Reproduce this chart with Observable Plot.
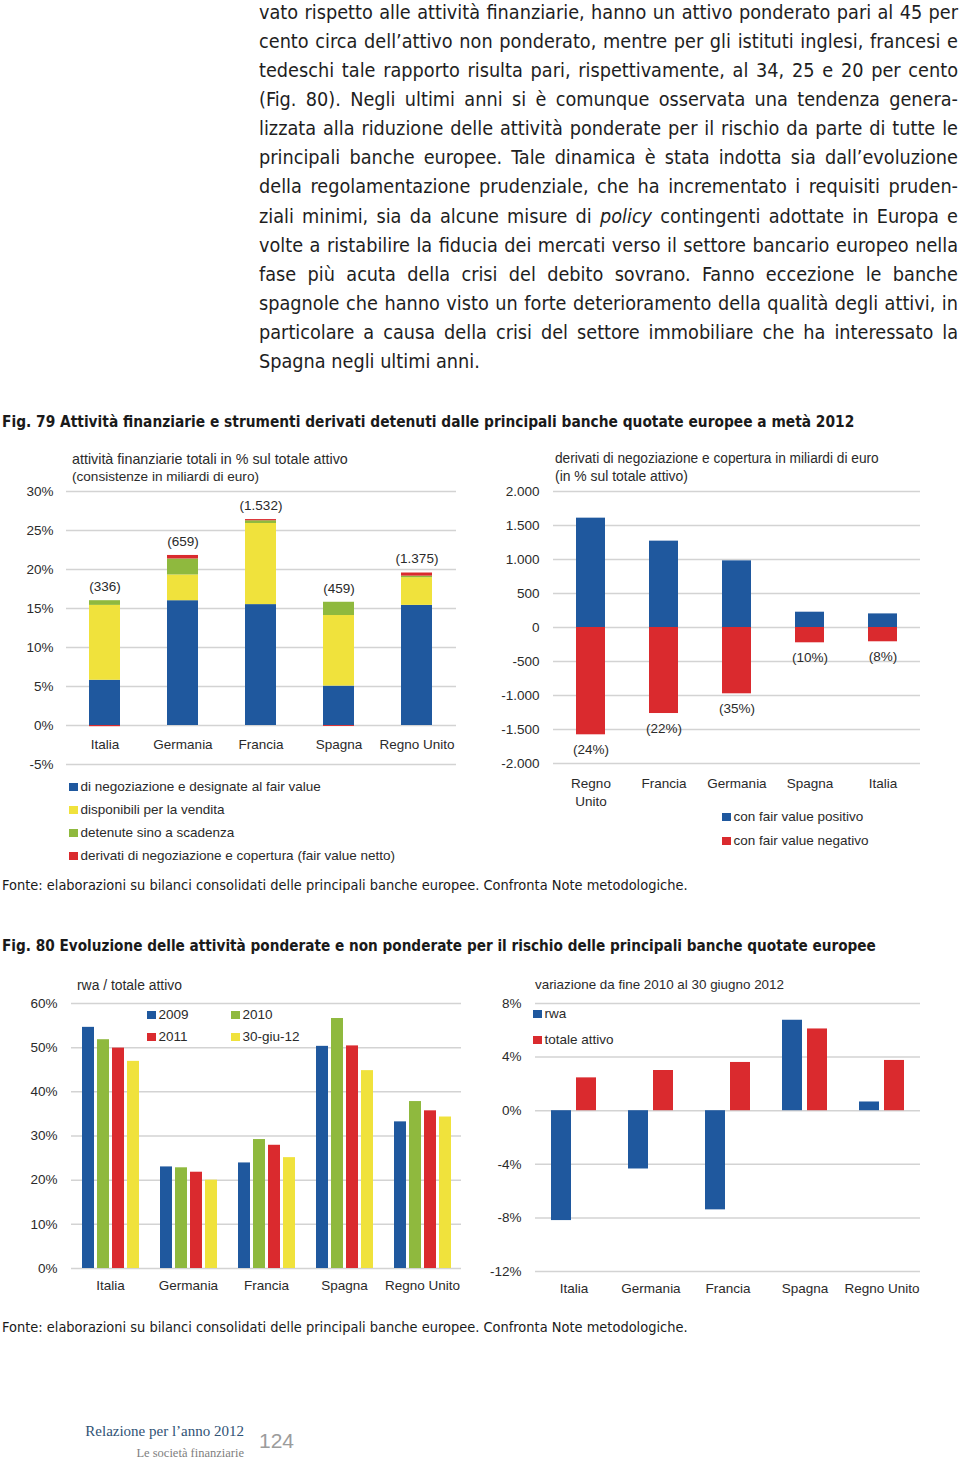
<!DOCTYPE html>
<html lang="it">
<head>
<meta charset="utf-8">
<script src="https://cdn.jsdelivr.net/npm/d3@7"></script>
<script src="https://cdn.jsdelivr.net/npm/@observablehq/plot@0.6"></script>
<style>
html,body{margin:0;padding:0;background:#fff;}
body{position:relative;width:960px;height:1460px;overflow:hidden;font-family:"Liberation Sans",Arial,sans-serif;color:#2a2a2a;}
.abs{position:absolute;white-space:nowrap;}
#para{position:absolute;left:259px;top:-2.5px;width:699px;font-family:"Liberation Sans Narrow","DejaVu Sans Condensed",sans-serif;font-size:20px;color:#1e1e1e;}
#para .ln{height:29.17px;line-height:29.17px;text-align:justify;text-align-last:justify;overflow:visible;}
#para .ln.last{text-align:left;text-align-last:left;}
.figtitle{font-family:"Liberation Sans Narrow","DejaVu Sans Condensed",sans-serif;font-weight:bold;font-size:18px;line-height:22px;color:#1a1a1a;}
.source{font-family:"Liberation Sans Narrow","DejaVu Sans Condensed",sans-serif;font-size:16px;line-height:20px;color:#1a1a1a;}
.sub{font-size:13.5px;line-height:18px;color:#2a2a2a;}
.leg{font-size:13.5px;line-height:18px;color:#2a2a2a;}
.leg i{display:inline-block;width:8.5px;height:8.5px;margin-right:3px;vertical-align:0px;}
.chart{position:absolute;}
.chart svg{overflow:visible;}
</style>
</head>
<body>
<div id="para">
<div class="ln">vato rispetto alle attività finanziarie, hanno un attivo ponderato pari al 45 per</div>
<div class="ln">cento circa dell’attivo non ponderato, mentre per gli istituti inglesi, francesi e</div>
<div class="ln">tedeschi tale rapporto risulta pari, rispettivamente, al 34, 25 e 20 per cento</div>
<div class="ln">(Fig. 80). Negli ultimi anni si è comunque osservata una tendenza genera-</div>
<div class="ln">lizzata alla riduzione delle attività ponderate per il rischio da parte di tutte le</div>
<div class="ln">principali banche europee. Tale dinamica è stata indotta sia dall’evoluzione</div>
<div class="ln">della regolamentazione prudenziale, che ha incrementato i requisiti pruden-</div>
<div class="ln">ziali minimi, sia da alcune misure di <i>policy</i> contingenti adottate in Europa e</div>
<div class="ln">volte a ristabilire la fiducia dei mercati verso il settore bancario europeo nella</div>
<div class="ln">fase più acuta della crisi del debito sovrano. Fanno eccezione le banche</div>
<div class="ln">spagnole che hanno visto un forte deterioramento della qualità degli attivi, in</div>
<div class="ln">particolare a causa della crisi del settore immobiliare che ha interessato la</div>
<div class="ln last">Spagna negli ultimi anni.</div>
</div>

<div class="abs figtitle" style="left:2px;top:411px" data-w="853">Fig. 79 Attività finanziarie e strumenti derivati detenuti dalle principali banche quotate europee a metà 2012</div>

<div class="abs sub" style="left:72px;top:450px" data-w="276">attività finanziarie totali in % sul totale attivo</div>
<div class="abs sub" style="left:72px;top:468px" data-w="187">(consistenze in miliardi di euro)</div>
<div class="chart" id="c1" style="left:0;top:481px"></div>
<div id="leg1"></div>

<div class="abs sub" style="left:555px;top:450px" data-w="324">derivati di negoziazione e copertura in miliardi di euro</div>
<div class="abs sub" style="left:555px;top:467px" data-w="133">(in % sul totale attivo)</div>
<div class="chart" id="c2" style="left:480px;top:481px"></div>
<div id="leg2"></div>

<div class="abs source" style="left:2px;top:875px" data-w="686">Fonte: elaborazioni su bilanci consolidati delle principali banche europee. Confronta Note metodologiche.</div>

<div class="abs figtitle" style="left:2px;top:935px" data-w="874">Fig. 80 Evoluzione delle attività ponderate e non ponderate per il rischio delle principali banche quotate europee</div>

<div class="abs sub" style="left:77px;top:976px" data-w="105">rwa / totale attivo</div>
<div class="chart" id="c3" style="left:0;top:995px"></div>
<div id="leg3"></div>

<div class="abs sub" style="left:535px;top:976px" data-w="249">variazione da fine 2010 al 30 giugno 2012</div>
<div class="chart" id="c4" style="left:480px;top:995px"></div>
<div id="leg4"></div>

<div class="abs source" style="left:2px;top:1317px" data-w="686">Fonte: elaborazioni su bilanci consolidati delle principali banche europee. Confronta Note metodologiche.</div>

<div class="abs" style="right:716px;top:1422px;font-family:'Liberation Serif',serif;font-size:15px;line-height:18px;color:#2f5275">Relazione per l’anno 2012</div>
<div class="abs" style="right:716px;top:1445px;font-family:'Liberation Serif',serif;font-size:12.5px;line-height:16px;color:#808080">Le società finanziarie</div>
<div class="abs" style="left:259px;top:1428px;font-family:'Liberation Sans',sans-serif;font-size:21px;line-height:26px;color:#9c9c9c">124</div>

<script>
// ---------- colours ----------
const BLU = "#1f589e", GIALLO = "#f0e23c", VERDE = "#8fb93e", ROSSO = "#da2a2e";
const GRID = "#d3d3d3";

// ---------- Fig. 79 left: attività finanziarie ----------
const paesi1 = ["Italia", "Germania", "Francia", "Spagna", "Regno Unito"];
const serie1 = [
  "di negoziazione e designate al fair value",
  "disponibili per la vendita",
  "detenute sino a scadenza",
  "derivati di negoziazione e copertura (fair value netto)"
];
const negoziazioneFV = [5.8, 16.0, 15.5, 5.05, 15.4];
const disponibili    = [9.6, 3.3, 10.4, 9.05, 3.55];
const detenute       = [0.6, 2.05, 0.35, 1.7, 0.2];
const derivatiNetti  = [-0.15, 0.45, 0.15, -0.12, 0.4];
const consistenze    = ["(336)", "(659)", "(1.532)", "(459)", "(1.375)"];
const ticks1 = [-5, 0, 5, 10, 15, 20, 25, 30];

// ---------- Fig. 79 right: derivati ----------
const paesi2 = ["Regno Unito", "Francia", "Germania", "Spagna", "Italia"];
const serie2 = ["con fair value positivo", "con fair value negativo"];
const fvPositivo = [1608, 1270, 980, 225, 200];
const fvNegativo = [-1578, -1265, -975, -225, -210];
const quotaAttivo = ["(24%)", "(22%)", "(35%)", "(10%)", "(8%)"];
const ticks2 = [-2000, -1500, -1000, -500, 0, 500, 1000, 1500, 2000];

// ---------- Fig. 80 left: rwa / totale attivo ----------
const paesi3 = ["Italia", "Germania", "Francia", "Spagna", "Regno Unito"];
const periodi = ["2009", "2010", "2011", "30-giu-12"];
const rwa2009 = [54.6, 23.0, 23.9, 50.3, 33.2];
const rwa2010 = [51.8, 22.8, 29.2, 56.6, 37.8];
const rwa2011 = [49.9, 21.8, 27.9, 50.4, 35.7];
const rwaGiu12 = [46.9, 20.0, 25.1, 44.8, 34.3];
const ticks3 = [0, 10, 20, 30, 40, 50, 60];

// ---------- Fig. 80 right: variazione ----------
const paesi4 = ["Italia", "Germania", "Francia", "Spagna", "Regno Unito"];
const serie4 = ["rwa", "totale attivo"];
const varRwa = [-8.2, -4.35, -7.4, 6.75, 0.65];
const varAttivo = [2.45, 3.0, 3.6, 6.1, 3.75];
const ticks4 = [-12, -8, -4, 0, 4, 8];

// ---------- helpers ----------
const pct = d => `${d}%`;
const it = d3.formatLocale({decimal: ",", thousands: ".", grouping: [3], currency: ["€", ""], minus: "-"});
const itNum = it.format(",");
const style = {fontFamily: "Liberation Sans, Arial, sans-serif", fontSize: "13.5px", color: "#2a2a2a", background: "transparent", overflow: "visible"};

function legend(containerId, left, tops, items, colors, lefts) {
  const c = document.getElementById(containerId);
  items.forEach((t, i) => {
    const d = document.createElement("div");
    d.className = "abs leg";
    d.style.left = (lefts ? lefts[i] : left) + "px";
    d.style.top = (tops[i] - 9) + "px";
    d.innerHTML = `<i style="background:${colors[i]}"></i>${t}`;
    c.appendChild(d);
  });
}

// ---------- chart 1 ----------
const arr1 = [negoziazioneFV, disponibili, detenute, derivatiNetti];
const rows1 = paesi1.flatMap((p, i) => serie1.map((s, j) => ({paese: p, serie: s, valore: arr1[j][i]})));
const totali1 = paesi1.map((p, i) => arr1.reduce((s, a) => s + Math.max(0, a[i]), 0));
const col1 = [BLU, GIALLO, VERDE, ROSSO];

document.getElementById("c1").append(Plot.plot({
  width: 470, height: 290, marginTop: 10, marginBottom: 7, marginLeft: 66, marginRight: 14,
  style,
  x: {domain: paesi1, paddingInner: 0.6, paddingOuter: 0.3, axis: null},
  y: {domain: [-5, 30], axis: null},
  color: {domain: serie1, range: col1},
  marks: [
    Plot.ruleY(ticks1, {stroke: GRID, strokeWidth: 1.5}),
    Plot.axisY({ticks: ticks1, tickSize: 0, tickPadding: 13, tickFormat: pct, label: null}),
    Plot.barY(rows1, {x: "paese", y: "valore", fill: "serie"}),
    Plot.text(paesi1, {x: d => d, y: () => 0, dy: 19, text: d => d}),
    Plot.text(paesi1, {x: d => d, y: (d, i) => totali1[i], text: (d, i) => consistenze[i], dy: -14})
  ]
}));
legend("leg1", 69, [787, 810, 833, 856], serie1, col1);

// ---------- chart 2 ----------
const rows2 = paesi2.flatMap((p, i) => [
  {paese: p, serie: serie2[0], valore: fvPositivo[i]},
  {paese: p, serie: serie2[1], valore: fvNegativo[i]}
]);
document.getElementById("c2").append(Plot.plot({
  width: 460, height: 330, marginTop: 10, marginBottom: 48, marginLeft: 73, marginRight: 20,
  style,
  x: {domain: paesi2, paddingInner: 0.6, paddingOuter: 0.3, axis: null},
  y: {domain: [-2000, 2000], axis: null},
  color: {domain: serie2, range: [BLU, ROSSO]},
  marks: [
    Plot.ruleY(ticks2, {stroke: GRID, strokeWidth: 1.5}),
    Plot.axisY({ticks: ticks2, tickSize: 0, tickPadding: 14, tickFormat: itNum, label: null}),
    Plot.barY(rows2, {x: "paese", y: "valore", fill: "serie"}),
    Plot.text(paesi2, {x: d => d, y: () => -2000, dy: 12, lineAnchor: "top", lineHeight: 1.33,
      text: d => d === "Regno Unito" ? "Regno\nUnito" : d}),
    Plot.text(paesi2, {x: d => d, y: (d, i) => fvNegativo[i], text: (d, i) => quotaAttivo[i], dy: 15})
  ]
}));
legend("leg2", 722, [817, 841], serie2, [BLU, ROSSO]);

// ---------- chart 3 ----------
const arr3 = [rwa2009, rwa2010, rwa2011, rwaGiu12];
const rows3 = paesi3.flatMap((p, i) => periodi.map((s, j) => ({paese: p, periodo: s, valore: arr3[j][i]})));
const col3 = [BLU, VERDE, ROSSO, GIALLO];
document.getElementById("c3").append(Plot.plot({
  width: 470, height: 305, marginTop: 8, marginBottom: 32, marginLeft: 70, marginRight: 8,
  style,
  fx: {domain: paesi3, padding: 0, axis: null},
  x: {domain: periodi, paddingInner: 0.2, paddingOuter: 0.66, axis: null},
  y: {domain: [0, 60], axis: null},
  color: {domain: periodi, range: col3},
  marks: [
    Plot.ruleY(ticks3, {stroke: GRID, strokeWidth: 1.5}),
    Plot.axisY({ticks: ticks3, tickSize: 0, tickPadding: 14, tickFormat: pct, label: null}),
    Plot.axisFx({anchor: "bottom", tickSize: 0, tickPadding: 12, label: null}),
    Plot.barY(rows3, {fx: "paese", x: "periodo", y: "valore", fill: "periodo"})
  ]
}));
legend("leg3", 0, [1015, 1015, 1037, 1037], ["2009", "2010", "2011", "30-giu-12"],
  [BLU, VERDE, ROSSO, GIALLO], [147, 231, 147, 231]);

// ---------- chart 4 ----------
const arr4 = [varRwa, varAttivo];
const rows4 = paesi4.flatMap((p, i) => serie4.map((s, j) => ({paese: p, serie: s, valore: arr4[j][i]})));
document.getElementById("c4").append(Plot.plot({
  width: 460, height: 305, marginTop: 8, marginBottom: 29, marginLeft: 53, marginRight: 19,
  style,
  fx: {domain: paesi4, padding: 0, axis: null},
  x: {domain: serie4, paddingInner: 0.2, paddingOuter: 0.63, axis: null},
  y: {domain: [-12, 8], axis: null},
  color: {domain: serie4, range: [BLU, ROSSO]},
  marks: [
    Plot.ruleY(ticks4, {stroke: GRID, strokeWidth: 1.5}),
    Plot.axisY({ticks: ticks4, tickSize: 0, tickPadding: 14, tickFormat: pct, label: null}),
    Plot.axisFx({anchor: "bottom", tickSize: 0, tickPadding: 12, label: null}),
    Plot.barY(rows4, {fx: "paese", x: "serie", y: "valore", fill: "serie"})
  ]
}));
legend("leg4", 533, [1014, 1040], serie4, [BLU, ROSSO]);

// ---------- fit single-line texts to their measured widths ----------
document.querySelectorAll("[data-w]").forEach(el => {
  const w = +el.dataset.w;
  const cur = el.getBoundingClientRect().width;
  const fs = parseFloat(getComputedStyle(el).fontSize);
  if (cur > 0) el.style.fontSize = (fs * w / cur).toFixed(2) + "px";
});

// ---------- paragraph: pick a font size so every line fits its justified width ----------
(function () {
  const para = document.getElementById("para");
  const lines = [...para.querySelectorAll(".ln")];
  const fs = parseFloat(getComputedStyle(para).fontSize);
  let maxW = 0;
  lines.forEach(l => {
    const s = document.createElement("span");
    s.style.whiteSpace = "nowrap";
    s.innerHTML = l.innerHTML;
    l.innerHTML = "";
    l.appendChild(s);
    maxW = Math.max(maxW, s.getBoundingClientRect().width);
  });
  lines.forEach(l => { l.innerHTML = l.firstChild.innerHTML; });
  const target = 690;
  if (maxW > target) para.style.fontSize = (fs * target / maxW).toFixed(2) + "px";
})();
</script>
</body>
</html>
